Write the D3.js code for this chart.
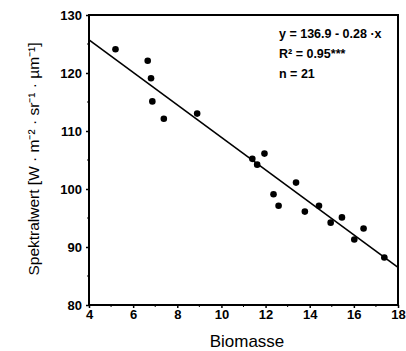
<!DOCTYPE html>
<html lang="de">
<head>
<meta charset="utf-8" />
<title>Spektralwert vs Biomasse</title>
<script src="https://cdn.jsdelivr.net/npm/d3@7"></script>
<style>
  body { margin: 0; background: #fff; }
  svg { font-family: "Liberation Sans", Arial, sans-serif; }
</style>
</head>
<body>
<svg id="chart" width="406" height="351"></svg>
<script>
// data
const biomasse = [5.2, 6.66, 6.81, 6.87, 7.39, 8.9, 11.4, 11.62, 11.95, 12.36, 12.59, 13.38, 13.78, 14.42, 14.95, 15.46, 16.02, 16.44, 17.38];
const spektral = [124.1, 122.1, 119.1, 115.1, 112.1, 113.0, 105.2, 104.2, 106.1, 99.1, 97.1, 101.1, 96.1, 97.1, 94.2, 95.1, 91.3, 93.2, 88.2];
const xTicks = [4, 6, 8, 10, 12, 14, 16, 18];
const yTicks = [80, 90, 100, 110, 120, 130];
const fitIntercept = 136.9;
const fitSlope = -2.8;
const statLines = ["y = 136.9 - 0.28 ·x", "R² = 0.95***", "n = 21"];

const svg = d3.select("#chart");
const pLeft = 89, pRight = 398, pTop = 15, pBottom = 305;

const x = d3.scaleLinear().domain([4, 18]).range([pLeft, pRight]);
const y = d3.scaleLinear().domain([80, 130]).range([pBottom, pTop]);

// frame
svg.append("rect")
    .attr("x", pLeft).attr("y", pTop)
    .attr("width", pRight - pLeft).attr("height", pBottom - pTop)
    .attr("fill", "none").attr("stroke", "#000").attr("stroke-width", 2);

// axes
const xAxis = svg.append("g")
    .attr("transform", "translate(0," + pBottom + ")")
    .call(d3.axisBottom(x).tickValues(xTicks).tickSize(3).tickPadding(2));
const yAxis = svg.append("g")
    .attr("transform", "translate(" + pLeft + ",0)")
    .call(d3.axisLeft(y).tickValues(yTicks).tickSize(3).tickPadding(4));

[xAxis, yAxis].forEach(g => {
    g.select(".domain").remove();
    g.selectAll("line").attr("stroke-width", 1.5);
    g.selectAll("text")
        .attr("font-size", 13)
        .attr("font-weight", "bold")
        .attr("fill", "#000")
        .attr("font-family", "Liberation Sans, Arial, sans-serif");
});

// minor ticks
svg.append("g").selectAll("line")
    .data(d3.range(5, 18, 2))
    .enter().append("line")
    .attr("x1", d => x(d)).attr("x2", d => x(d))
    .attr("y1", pBottom).attr("y2", pBottom + 2)
    .attr("stroke", "#000");
svg.append("g").selectAll("line")
    .data(d3.range(85, 130, 10))
    .enter().append("line")
    .attr("x1", pLeft - 2).attr("x2", pLeft)
    .attr("y1", d => y(d)).attr("y2", d => y(d))
    .attr("stroke", "#000");

// regression line
const plot = svg.append("g");
plot.append("line")
    .attr("x1", x(4)).attr("y1", y(fitIntercept + fitSlope * 4))
    .attr("x2", x(18)).attr("y2", y(fitIntercept + fitSlope * 18))
    .attr("stroke", "#000").attr("stroke-width", 1.6);

// points
plot.selectAll("circle")
    .data(biomasse)
    .enter().append("circle")
    .attr("cx", d => x(d))
    .attr("cy", (d, i) => y(spektral[i]))
    .attr("r", 3.3)
    .attr("fill", "#000");

// statistics text
svg.append("g").selectAll("text")
    .data(statLines)
    .enter().append("text")
    .attr("x", 279)
    .attr("y", (d, i) => 38 + i * 20)
    .attr("font-size", 12.5)
    .attr("font-weight", "bold")
    .attr("fill", "#000")
    .text(d => d);

// axis titles
svg.append("text")
    .attr("x", 247)
    .attr("y", 347)
    .attr("text-anchor", "middle")
    .attr("font-size", 17)
    .attr("fill", "#000")
    .text("Biomasse");

svg.append("text")
    .attr("transform", "translate(39,159) rotate(-90)")
    .attr("text-anchor", "middle")
    .attr("font-size", 15.5)
    .attr("fill", "#000")
    .text("Spektralwert [W · m⁻² · sr⁻¹ · µm⁻¹]");
</script>
</body>
</html>
